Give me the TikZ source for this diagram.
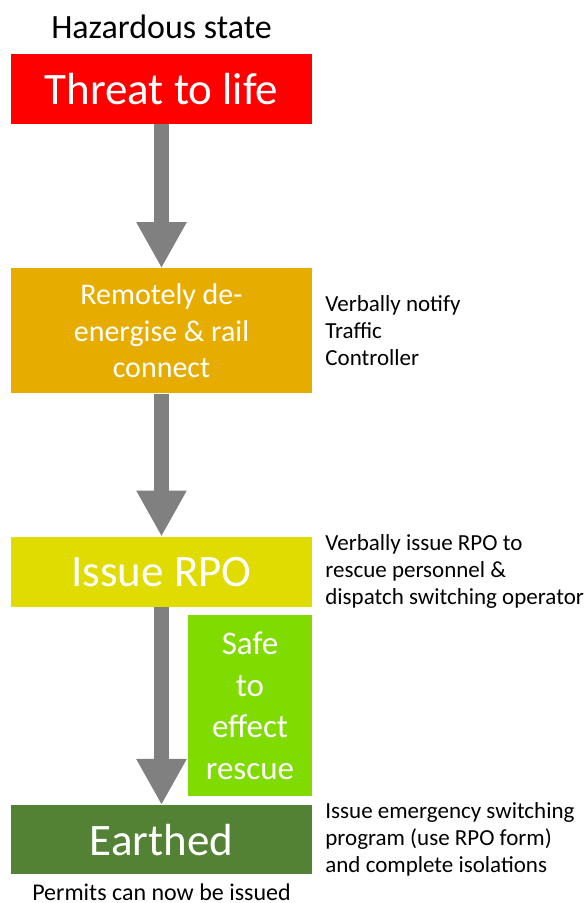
\documentclass[tikz,border=0pt]{standalone}
\usepackage{fontspec}
\setmainfont{Carlito}
\usetikzlibrary{arrows.meta, positioning}
\definecolor{threatred}{HTML}{FF0000}
\definecolor{deenergorange}{HTML}{E6AD00}
\definecolor{rpoyellow}{HTML}{E0DB00}
\definecolor{rescuegreen}{HTML}{7FDB00}
\definecolor{earthgreen}{HTML}{548235}
\definecolor{arrowgray}{HTML}{808080}
\begin{document}
\begin{tikzpicture}[
    x=1pt, y=1pt,
    box/.style={rectangle, minimum width=301pt, inner sep=0pt, text=white, align=center},
    bigtext/.style={font=\fontsize{45}{54}\selectfont},
    note/.style={inner sep=0pt, align=left, font=\fontsize{23}{27}\selectfont},
    caption/.style={inner sep=0pt, font=\fontsize{24}{29}\selectfont},
    arrow/.style={line width=15pt, draw=arrowgray, -{Triangle[width=47pt, length=46pt]}}
  ]
    \useasboundingbox (0,0) rectangle (584,903);
    % Nodes
    \node[box, bigtext, fill=threatred, minimum height=70pt] (threat) at (161.5,814) {Threat to life};
    \node[inner sep=0pt, font=\fontsize{34}{40}\selectfont, above=15pt of threat] (hazard) {Hazardous state};
    \node[box, fill=deenergorange, minimum height=125pt, font=\fontsize{30}{36.5}\selectfont, below=144pt of threat] (deenerg) {Remotely de-\\energise \& rail\\connect};
    \node[box, bigtext, fill=rpoyellow, minimum height=70pt, below=143pt of deenerg] (rpo) {Issue RPO};
    \node[box, bigtext, fill=earthgreen, minimum height=69pt, below=198pt of rpo] (earthed) {Earthed};
    \node[box, fill=rescuegreen, minimum width=124pt, minimum height=181pt, font=\fontsize{33}{41.5}\selectfont, below=8pt of rpo.south east, anchor=north east] (rescue) {Safe\\to\\effect\\rescue};
    % Side notes
    \node[note, right=13pt of deenerg] (notify) {Verbally notify\\Traffic\\Controller};
    \node[note, right=13pt of rpo] (issue) {Verbally issue RPO to\\rescue personnel \&\\dispatch switching operator};
    \node[note, right=13pt of earthed] (program) {Issue emergency switching\\program (use RPO form)\\and complete isolations};
    \node[caption, below=9pt of earthed] (permits) {Permits can now be issued};
    % Arrows
    \draw[arrow] (threat) -- (deenerg);
    \draw[arrow] (deenerg) -- (rpo);
    \draw[arrow] (rpo) -- (earthed);
\end{tikzpicture}
\end{document}
